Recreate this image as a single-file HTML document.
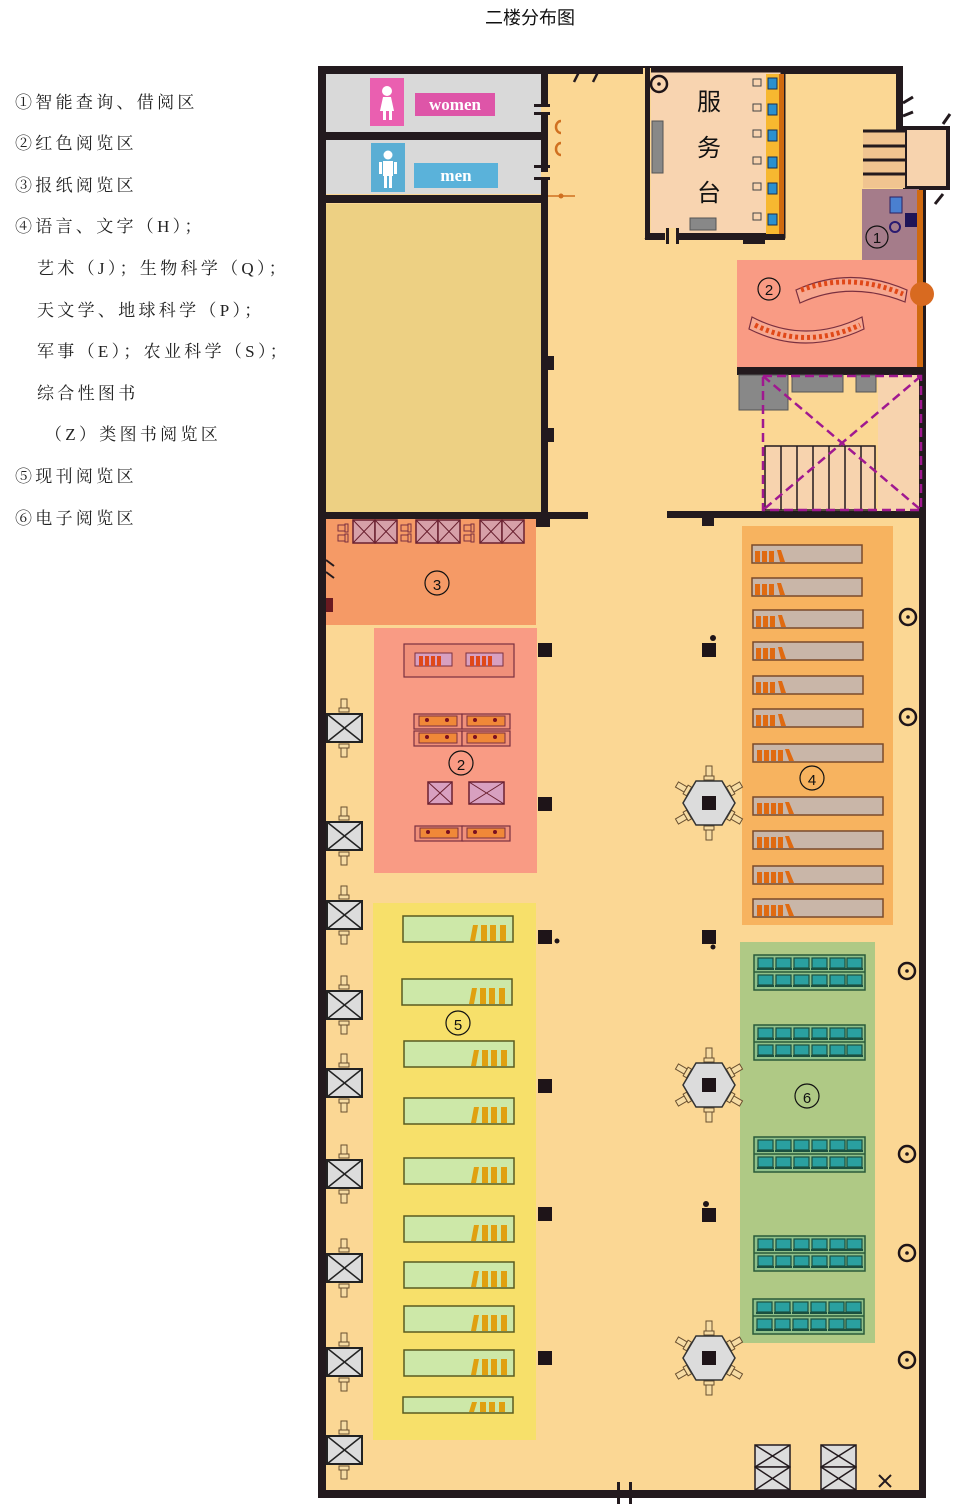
<!DOCTYPE html>
<html><head><meta charset="utf-8"><style>
html,body{margin:0;padding:0;background:#fff;}
svg{display:block;}
.lg{font-family:"Liberation Serif","Noto Serif CJK SC","Noto Sans CJK SC",serif;font-size:17px;fill:#222;letter-spacing:3.3px;}
.n{font-family:"Liberation Sans","Noto Sans CJK SC",sans-serif;font-size:15px;fill:#111;}
</style></head><body>
<svg width="958" height="1509" viewBox="0 0 958 1509" xmlns="http://www.w3.org/2000/svg">
<defs>
<g id="sh4"><rect x="0" y="0" width="110" height="18" fill="#c9b6a8" stroke="#7a4a2a" stroke-width="1.5"/><rect x="3" y="6" width="5" height="11" fill="#e06a10"/><rect x="10" y="6" width="5" height="11" fill="#e06a10"/><rect x="17" y="6" width="5" height="11" fill="#e06a10"/><polygon points="25,5 29,5 33,17 28,17" fill="#e06a10"/></g>
<g id="sh4l"><rect x="0" y="0" width="130" height="18" fill="#c9b6a8" stroke="#7a4a2a" stroke-width="1.5"/><rect x="4" y="6" width="5" height="11" fill="#e06a10"/><rect x="11" y="6" width="5" height="11" fill="#e06a10"/><rect x="18" y="6" width="5" height="11" fill="#e06a10"/><rect x="25" y="6" width="5" height="11" fill="#e06a10"/><polygon points="32,5 36,5 41,17 36,17" fill="#e06a10"/></g>
<g id="sh5"><rect x="0" y="0" width="110" height="26" fill="#cde8a8" stroke="#5a5a20" stroke-width="1.5"/><polygon points="70,9 75,9 72,25 67,25" fill="#e0a010"/><rect x="78" y="9" width="6" height="16" fill="#e0a010"/><rect x="87" y="9" width="6" height="16" fill="#e0a010"/><rect x="97" y="9" width="6" height="16" fill="#e0a010"/></g>
<g id="mon"><rect x="0" y="0" width="15" height="10" fill="#2aa0a0" stroke="#1a5040" stroke-width="1.2"/><rect x="-1" y="10" width="17" height="2" fill="#1a5040"/></g>
<g id="pc"><rect x="0" y="0" width="111" height="35" fill="#8fc08a" stroke="#2a5a3a" stroke-width="1.5"/><line x1="0" y1="17" x2="111" y2="17" stroke="#2a5a3a" stroke-width="1.5"/>
<use href="#mon" x="4" y="3"/><use href="#mon" x="22" y="3"/><use href="#mon" x="40" y="3"/><use href="#mon" x="58" y="3"/><use href="#mon" x="76" y="3"/><use href="#mon" x="93" y="3"/>
<use href="#mon" x="4" y="20"/><use href="#mon" x="22" y="20"/><use href="#mon" x="40" y="20"/><use href="#mon" x="58" y="20"/><use href="#mon" x="76" y="20"/><use href="#mon" x="93" y="20"/></g>
<g id="chv"><rect x="-3" y="0" width="6" height="9" fill="#f6dca4" stroke="#6a5030" stroke-width="1"/><rect x="-5" y="9" width="10" height="4" fill="#f6dca4" stroke="#6a5030" stroke-width="1"/></g>
<g id="st"><use href="#chv" x="17" y="-15"/><g transform="translate(17,43) scale(1,-1)"><use href="#chv"/></g><rect x="0" y="0" width="35" height="28" fill="#dcdcdc" stroke="#222" stroke-width="2"/><line x1="0" y1="0" x2="35" y2="28" stroke="#222" stroke-width="1.5"/><line x1="35" y1="0" x2="0" y2="28" stroke="#222" stroke-width="1.5"/></g>
<g id="hex"><g stroke="#6a5030" stroke-width="1" fill="#f6dca4">
<g transform="rotate(0)"><rect x="-3" y="-37" width="6" height="10"/><rect x="-5" y="-27" width="10" height="4"/></g>
<g transform="rotate(60)"><rect x="-3" y="-37" width="6" height="10"/><rect x="-5" y="-27" width="10" height="4"/></g>
<g transform="rotate(120)"><rect x="-3" y="-37" width="6" height="10"/><rect x="-5" y="-27" width="10" height="4"/></g>
<g transform="rotate(180)"><rect x="-3" y="-37" width="6" height="10"/><rect x="-5" y="-27" width="10" height="4"/></g>
<g transform="rotate(240)"><rect x="-3" y="-37" width="6" height="10"/><rect x="-5" y="-27" width="10" height="4"/></g>
<g transform="rotate(300)"><rect x="-3" y="-37" width="6" height="10"/><rect x="-5" y="-27" width="10" height="4"/></g></g>
<polygon points="-26,0 -13,-22 13,-22 26,0 13,22 -13,22" fill="#dcdcdc" stroke="#333" stroke-width="1.5"/><rect x="-7" y="-7" width="14" height="14" fill="#1e1418"/></g>
<g id="xb"><rect x="0" y="0" width="22" height="23" fill="#d6a0a8" stroke="#6a2030" stroke-width="1.5"/><line x1="0" y1="0" x2="22" y2="23" stroke="#6a2030"/><line x1="22" y1="0" x2="0" y2="23" stroke="#6a2030"/></g>
<g id="ch2"><g fill="none" stroke="#7a3040" stroke-width="1"><rect x="0" y="0" width="7" height="6"/><rect x="7" y="-1" width="3" height="8"/><rect x="0" y="10" width="7" height="6"/><rect x="7" y="9" width="3" height="8"/></g></g>
<g id="tgt"><circle r="8" fill="none" stroke="#1e1418" stroke-width="2.5"/><circle r="1.8" fill="#1e1418"/></g>
<g id="sofa"><rect x="0" y="0" width="48" height="15" fill="#f0907a" stroke="#7a3040" stroke-width="1.2"/><rect x="5" y="2" width="38" height="10" fill="#f08838" stroke="#7a3040" stroke-width="1"/><circle cx="13" cy="6" r="2" fill="#7a1020"/><circle cx="33" cy="6" r="2" fill="#7a1020"/></g>
</defs>

<text x="530" y="24" text-anchor="middle" font-family="Liberation Sans,Noto Sans CJK SC,sans-serif" font-size="18" fill="#111">二楼分布图</text>

<g class="lg">
<text x="15" y="108">①智能查询、借阅区</text>
<text x="15" y="149">②红色阅览区</text>
<text x="15" y="191">③报纸阅览区</text>
<text x="15" y="232">④语言、文字（H）；</text>
<text x="37" y="274">艺术（J）；生物科学（Q）；</text>
<text x="37" y="316">天文学、地球科学（P）；</text>
<text x="37" y="357">军事（E）；农业科学（S）；</text>
<text x="37" y="399">综合性图书</text>
<text x="45" y="440">（Z）类图书阅览区</text>
<text x="15" y="482">⑤现刊阅览区</text>
<text x="15" y="524">⑥电子阅览区</text>
</g>

<rect x="322" y="70" width="600" height="1424" fill="#fbd794"/>
<rect x="900" y="70" width="30" height="60" fill="#fff"/>
<rect x="325" y="73" width="216" height="59" fill="#d9d9d9"/>
<rect x="325" y="140" width="216" height="54" fill="#d9d9d9"/>
<rect x="318" y="132" width="230" height="8" fill="#231a1e"/>
<rect x="318" y="195" width="230" height="8" fill="#231a1e"/>
<rect x="370" y="78" width="34" height="48" fill="#ea5fb0"/>
<circle cx="387" cy="91" r="5" fill="#fff"/><path d="M380 111 L383 97 L391 97 L394 111 Z" fill="#fff"/><rect x="383" y="111" width="3" height="9" fill="#fff"/><rect x="389" y="111" width="3" height="9" fill="#fff"/>
<rect x="415" y="93" width="80" height="23" fill="#de55a8"/>
<text x="455" y="110" text-anchor="middle" font-family="Liberation Serif,serif" font-weight="bold" font-size="17" fill="#fff">women</text>
<rect x="371" y="143" width="34" height="49" fill="#5aaed4"/>
<circle cx="388" cy="155" r="4.5" fill="#fff"/><rect x="383" y="161" width="10" height="15" fill="#fff"/><rect x="384" y="176" width="3" height="12" fill="#fff"/><rect x="389" y="176" width="3" height="12" fill="#fff"/><rect x="379" y="162" width="3" height="12" fill="#fff"/><rect x="394" y="162" width="3" height="12" fill="#fff"/>
<rect x="414" y="163" width="84" height="25" fill="#5ab2da"/>
<text x="456" y="181" text-anchor="middle" font-family="Liberation Serif,serif" font-weight="bold" font-size="17" fill="#fff">men</text>
<rect x="325" y="204" width="216" height="308" fill="#edd083"/>
<rect x="318" y="66" width="585" height="8" fill="#231a1e"/>
<rect x="318" y="66" width="8" height="1432" fill="#231a1e"/>
<rect x="318" y="1490" width="608" height="8" fill="#231a1e"/>
<rect x="896" y="66" width="7" height="64" fill="#231a1e"/>
<rect x="919" y="188" width="7" height="1310" fill="#231a1e"/>
<rect x="541" y="66" width="7" height="40" fill="#231a1e"/>
<rect x="541" y="114" width="7" height="58" fill="#231a1e"/>
<rect x="541" y="180" width="7" height="336" fill="#231a1e"/>
<rect x="534" y="104" width="16" height="3" fill="#231a1e"/><rect x="534" y="112" width="16" height="3" fill="#231a1e"/>
<rect x="534" y="165" width="16" height="3" fill="#231a1e"/><rect x="534" y="177" width="16" height="3" fill="#231a1e"/>
<path d="M561 121 a5 6 0 0 0 0 12" fill="none" stroke="#d07020" stroke-width="2.5"/>
<path d="M561 143 a5 6 0 0 0 0 12" fill="none" stroke="#d07020" stroke-width="2.5"/>
<line x1="548" y1="196" x2="575" y2="196" stroke="#d07020" stroke-width="1.5"/><circle cx="561" cy="196" r="2.5" fill="#d07020"/>
<rect x="547" y="356" width="7" height="14" fill="#231a1e"/><rect x="547" y="428" width="7" height="14" fill="#231a1e"/>
<line x1="574" y1="82" x2="579" y2="72" stroke="#231a1e" stroke-width="2.5"/><line x1="593" y1="82" x2="598" y2="72" stroke="#231a1e" stroke-width="2.5"/>
<rect x="318" y="512" width="270" height="7" fill="#231a1e"/>
<rect x="667" y="511" width="259" height="7" fill="#231a1e"/>
<rect x="536" y="518" width="14" height="9" fill="#231a1e"/><rect x="702" y="518" width="12" height="8" fill="#231a1e"/>

<rect x="647" y="70" width="136" height="166" fill="#f8d4b0" stroke="#231a1e" stroke-width="5"/>
<rect x="643" y="68" width="8" height="170" fill="#fbd794"/>
<rect x="645" y="68" width="5" height="170" fill="#231a1e"/>
<rect x="645" y="233" width="140" height="7" fill="#231a1e"/>
<rect x="665" y="228" width="14" height="14" fill="#fbd794"/><rect x="666" y="228" width="3" height="16" fill="#231a1e"/><rect x="676" y="228" width="3" height="16" fill="#231a1e"/>
<rect x="743" y="236" width="22" height="8" fill="#231a1e"/>
<use href="#tgt" x="659" y="84"/>
<rect x="652" y="121" width="11" height="52" fill="#888" stroke="#555"/>
<rect x="690" y="218" width="26" height="12" fill="#888" stroke="#555"/>
<rect x="766" y="74" width="13" height="160" fill="#f7b830"/>
<rect x="779" y="74" width="5" height="160" fill="#d06a10"/>
<text x="709" y="110" text-anchor="middle" font-family="Noto Sans CJK SC,sans-serif" font-size="24" fill="#111">服</text>
<text x="709" y="156" text-anchor="middle" font-family="Noto Sans CJK SC,sans-serif" font-size="24" fill="#111">务</text>
<text x="709" y="201" text-anchor="middle" font-family="Noto Sans CJK SC,sans-serif" font-size="24" fill="#111">台</text>
<g fill="#2a90d0" stroke="#1a3050" stroke-width="1">
<rect x="768" y="78" width="9" height="11"/><rect x="768" y="104" width="9" height="11"/><rect x="768" y="130" width="9" height="11"/><rect x="768" y="157" width="9" height="11"/><rect x="768" y="183" width="9" height="11"/><rect x="768" y="214" width="9" height="11"/></g>
<g fill="none" stroke="#444" stroke-width="1">
<rect x="753" y="79" width="8" height="7"/><rect x="753" y="104" width="8" height="7"/><rect x="753" y="130" width="8" height="7"/><rect x="753" y="157" width="8" height="7"/><rect x="753" y="183" width="8" height="7"/><rect x="753" y="213" width="8" height="7"/></g>

<rect x="905" y="128" width="43" height="60" fill="#f7d3ae" stroke="#231a1e" stroke-width="4"/>
<rect x="863" y="130" width="42" height="58" fill="#f0c490"/>
<g stroke="#231a1e" stroke-width="3"><line x1="863" y1="131" x2="905" y2="131"/><line x1="863" y1="146" x2="905" y2="146"/><line x1="863" y1="160" x2="905" y2="160"/><line x1="863" y1="174" x2="905" y2="174"/><line x1="903" y1="103" x2="913" y2="97"/><line x1="903" y1="116" x2="913" y2="112"/><line x1="935" y1="204" x2="943" y2="194"/><line x1="943" y1="124" x2="950" y2="114"/></g>
<rect x="862" y="189" width="57" height="71" fill="#a57c8a"/>
<rect x="890" y="197" width="12" height="16" fill="#4a80d0" stroke="#2a2060"/>
<rect x="905" y="213" width="14" height="14" fill="#1e1458"/>
<circle cx="895" cy="227" r="5" fill="none" stroke="#2a1a70" stroke-width="2"/>
<circle cx="877" cy="237" r="11" fill="none" stroke="#111" stroke-width="1.2"/><text x="877" y="243" text-anchor="middle" class="n" font-size="17">1</text>
<rect x="737" y="260" width="181" height="107" fill="#f99b84"/>
<rect x="917" y="190" width="6" height="178" fill="#d06a10"/>
<circle cx="922" cy="294" r="12" fill="#d86a20"/>
<circle cx="769" cy="289" r="11" fill="none" stroke="#111" stroke-width="1.2"/><text x="769" y="295" text-anchor="middle" class="n" font-size="17">2</text>
<path d="M796 290 Q850 265 907 290 L905 302 Q850 280 800 303 Z" fill="#f7a890" stroke="#7a3040" stroke-width="1.2"/>
<path d="M801 290 Q850 272 903 294" fill="none" stroke="#e04818" stroke-width="5" stroke-dasharray="3 3"/>
<path d="M752 317 Q805 345 862 317 L864 329 Q805 357 749 329 Z" fill="#f7a890" stroke="#7a3040" stroke-width="1.2"/>
<path d="M755 325 Q805 350 860 325" fill="none" stroke="#e04818" stroke-width="5" stroke-dasharray="3 3"/>
<rect x="737" y="367" width="189" height="8" fill="#231a1e"/>
<rect x="878" y="375" width="41" height="136" fill="#f7d3ae"/>
<rect x="739" y="375" width="49" height="35" fill="#888" stroke="#555"/>
<rect x="792" y="375" width="51" height="17" fill="#888" stroke="#555"/>
<rect x="856" y="375" width="20" height="17" fill="#888" stroke="#555"/>
<rect x="765" y="446" width="110" height="64" fill="#f7d3ae" stroke="#231a1e" stroke-width="1.5"/>
<g stroke="#231a1e" stroke-width="1.5"><line x1="781" y1="446" x2="781" y2="510"/><line x1="797" y1="446" x2="797" y2="510"/><line x1="813" y1="446" x2="813" y2="510"/><line x1="829" y1="446" x2="829" y2="510"/><line x1="845" y1="446" x2="845" y2="510"/><line x1="861" y1="446" x2="861" y2="510"/></g>
<g fill="none" stroke="#a01890" stroke-width="2.5" stroke-dasharray="9 5"><rect x="763" y="376" width="158" height="134"/><line x1="763" y1="376" x2="921" y2="510"/><line x1="921" y1="376" x2="763" y2="510"/></g>

<rect x="326" y="519" width="210" height="106" fill="#f59a66"/>
<g><use href="#xb" x="353" y="520"/><use href="#xb" x="375" y="520"/><use href="#xb" x="416" y="520"/><use href="#xb" x="438" y="520"/><use href="#xb" x="480" y="520"/><use href="#xb" x="502" y="520"/></g>
<use href="#ch2" x="338" y="525"/><use href="#ch2" x="401" y="525"/><use href="#ch2" x="464" y="525"/>
<line x1="326" y1="560" x2="334" y2="566" stroke="#231a1e" stroke-width="2"/><line x1="326" y1="572" x2="334" y2="578" stroke="#231a1e" stroke-width="2"/>
<rect x="326" y="598" width="7" height="14" fill="#6a1a20"/>
<circle cx="437" cy="583" r="12" fill="none" stroke="#111" stroke-width="1.2"/><text x="437" y="590" text-anchor="middle" class="n" font-size="18">3</text>

<rect x="374" y="628" width="163" height="245" fill="#f99b84"/>
<rect x="404" y="644" width="110" height="33" fill="#f0907a" stroke="#7a3040" stroke-width="1.2"/>
<rect x="415" y="653" width="37" height="13" fill="#d8a0c0" stroke="#7a3040"/><rect x="466" y="653" width="37" height="13" fill="#d8a0c0" stroke="#7a3040"/>
<g fill="#e04818"><rect x="419" y="656" width="4" height="10"/><rect x="425" y="656" width="4" height="10"/><rect x="431" y="656" width="4" height="10"/><rect x="437" y="656" width="4" height="10"/><rect x="470" y="656" width="4" height="10"/><rect x="476" y="656" width="4" height="10"/><rect x="482" y="656" width="4" height="10"/><rect x="488" y="656" width="4" height="10"/></g>
<use href="#sofa" x="414" y="714"/><use href="#sofa" x="462" y="714"/><use href="#sofa" x="414" y="731"/><use href="#sofa" x="462" y="731"/>
<use href="#sofa" x="415" y="826"/><use href="#sofa" x="462" y="826"/>
<circle cx="461" cy="763" r="12" fill="none" stroke="#111" stroke-width="1.2"/><text x="461" y="770" text-anchor="middle" class="n" font-size="18">2</text>
<g fill="#d8a0c0" stroke="#6a2030" stroke-width="1.5"><rect x="428" y="782" width="24" height="22"/><rect x="469" y="782" width="35" height="22"/></g>
<g stroke="#6a2030" stroke-width="1"><line x1="428" y1="782" x2="452" y2="804"/><line x1="452" y1="782" x2="428" y2="804"/><line x1="469" y1="782" x2="504" y2="804"/><line x1="504" y1="782" x2="469" y2="804"/></g>

<rect x="373" y="903" width="163" height="537" fill="#f7e06a"/>
<use href="#sh5" x="403" y="916"/><use href="#sh5" x="402" y="979"/><use href="#sh5" x="404" y="1041"/><use href="#sh5" x="404" y="1098"/><use href="#sh5" x="404" y="1158"/><use href="#sh5" x="404" y="1216"/><use href="#sh5" x="404" y="1262"/><use href="#sh5" x="404" y="1306"/><use href="#sh5" x="404" y="1350"/>
<rect x="403" y="1397" width="110" height="16" fill="#cde8a8" stroke="#5a5a20" stroke-width="1.5"/>
<g fill="#e0a010"><polygon points="472,1402 477,1402 474,1412 469,1412"/><rect x="480" y="1402" width="6" height="10"/><rect x="489" y="1402" width="6" height="10"/><rect x="499" y="1402" width="6" height="10"/></g>
<circle cx="458" cy="1023" r="12" fill="none" stroke="#111" stroke-width="1.2"/><text x="458" y="1030" text-anchor="middle" class="n" font-size="18">5</text>

<use href="#st" x="327" y="714"/><use href="#st" x="327" y="822"/><use href="#st" x="327" y="901"/><use href="#st" x="327" y="991"/><use href="#st" x="327" y="1069"/><use href="#st" x="327" y="1160"/><use href="#st" x="327" y="1254"/><use href="#st" x="327" y="1348"/><use href="#st" x="327" y="1436"/>

<g fill="#1e1418"><rect x="538" y="643" width="14" height="14"/><rect x="538" y="797" width="14" height="14"/><rect x="538" y="930" width="14" height="14"/><rect x="538" y="1079" width="14" height="14"/><rect x="538" y="1207" width="14" height="14"/><rect x="538" y="1351" width="14" height="14"/>
<circle cx="557" cy="941" r="2.5"/>
<rect x="702" y="643" width="14" height="14"/><circle cx="713" cy="638" r="3"/>
<rect x="702" y="930" width="14" height="14"/><circle cx="713" cy="947" r="2.5"/>
<rect x="702" y="1208" width="14" height="14"/><circle cx="706" cy="1204" r="3"/></g>

<rect x="742" y="526" width="151" height="399" fill="#f7b35f"/>
<use href="#sh4" x="752" y="545"/><use href="#sh4" x="752" y="578"/><use href="#sh4" x="753" y="610"/><use href="#sh4" x="753" y="642"/><use href="#sh4" x="753" y="676"/><use href="#sh4" x="753" y="709"/>
<use href="#sh4l" x="753" y="744"/><use href="#sh4l" x="753" y="797"/><use href="#sh4l" x="753" y="831"/><use href="#sh4l" x="753" y="866"/><use href="#sh4l" x="753" y="899"/>
<circle cx="812" cy="778" r="12" fill="none" stroke="#111" stroke-width="1.2"/><text x="812" y="785" text-anchor="middle" class="n" font-size="18">4</text>

<rect x="740" y="942" width="135" height="401" fill="#afc985"/>
<use href="#pc" x="754" y="955"/><use href="#pc" x="754" y="1025"/><use href="#pc" x="754" y="1137"/><use href="#pc" x="754" y="1236"/><use href="#pc" x="753" y="1299"/>
<circle cx="807" cy="1096" r="12" fill="none" stroke="#111" stroke-width="1.2"/><text x="807" y="1103" text-anchor="middle" class="n" font-size="18">6</text>

<use href="#hex" x="709" y="803"/><use href="#hex" x="709" y="1085"/><use href="#hex" x="709" y="1358"/>

<use href="#tgt" x="908" y="617"/><use href="#tgt" x="908" y="717"/><use href="#tgt" x="907" y="971"/><use href="#tgt" x="907" y="1154"/><use href="#tgt" x="907" y="1253"/><use href="#tgt" x="907" y="1360"/>

<g fill="#dcdcdc" stroke="#231a1e" stroke-width="1.5">
<rect x="755" y="1445" width="35" height="22"/><rect x="755" y="1467" width="35" height="23"/>
<rect x="821" y="1445" width="35" height="22"/><rect x="821" y="1467" width="35" height="23"/></g>
<g stroke="#231a1e" stroke-width="1.5">
<line x1="755" y1="1445" x2="790" y2="1467"/><line x1="790" y1="1445" x2="755" y2="1467"/><line x1="755" y1="1467" x2="790" y2="1490"/><line x1="790" y1="1467" x2="755" y2="1490"/>
<line x1="821" y1="1445" x2="856" y2="1467"/><line x1="856" y1="1445" x2="821" y2="1467"/><line x1="821" y1="1467" x2="856" y2="1490"/><line x1="856" y1="1467" x2="821" y2="1490"/>
<line x1="879" y1="1475" x2="891" y2="1487" stroke-width="2"/><line x1="891" y1="1475" x2="879" y2="1487" stroke-width="2"/></g>
<rect x="617" y="1482" width="3" height="22" fill="#231a1e"/><rect x="629" y="1482" width="3" height="22" fill="#231a1e"/>
</svg>
</body></html>
